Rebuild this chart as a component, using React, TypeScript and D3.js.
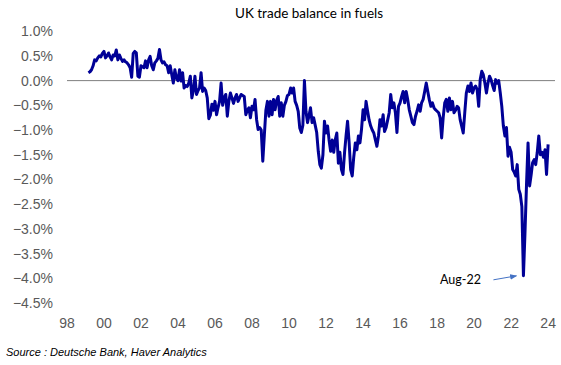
import React from 'react';
import * as d3 from 'd3';

// monthly values (% of GDP), first month Feb 1999, plotted at month end
const firstMonth = new Date(1999, 1, 1);
const fuelBalance = [
  0.16, 0.18, 0.22, 0.30, 0.42, 0.40, 0.46, 0.50, 0.48, 0.55,
  0.59, 0.46, 0.50, 0.56, 0.48, 0.42, 0.52, 0.50, 0.62, 0.42, 0.52, 0.45,
  0.39, 0.42, 0.38, 0.36, 0.32, 0.26, 0.07, 0.55, 0.59, 0.56, 0.09, 0.07,
  0.30, 0.28, 0.26, 0.40, 0.26, 0.42, 0.49, 0.30, 0.22, 0.36, 0.40, 0.45,
  0.63, 0.42, 0.36, 0.38, 0.32, 0.30, 0.16, 0.30, 0.12, -0.05, 0.22, 0.05,
  0.00, 0.22, -0.01, 0.16, -0.15, -0.10, -0.12, -0.05, 0.09, -0.35, -0.20, 0.09,
  -0.28, -0.20, -0.15, 0.16, -0.22, -0.15, -0.20, -0.35, -0.77, -0.70, -0.48, -0.60,
  -0.42, -0.69, -0.55, -0.42, -0.05, -0.50, -0.35, -0.28, -0.72, -0.42, -0.25, -0.35,
  -0.46, -0.35, -0.28, -0.42, -0.35, -0.28, -0.30, -0.32, -0.69, -0.60, -0.55, -0.75,
  -0.52, -0.59, -0.38, -0.79, -0.99, -0.95, -1.00, -1.63, -1.10, -0.60, -0.42, -0.72,
  -0.42, -0.69, -0.38, -0.59, -0.40, -0.32, -0.72, -0.45, -0.72, -0.50, -0.42, -0.30,
  -0.28, -0.15, -0.25, -0.15, -0.42, -0.50, -0.62, -0.96, -1.05, -0.90, 0.00, -0.62,
  -0.85, -0.70, -0.55, -0.85, -0.75, -0.90, -1.05, -1.43, -1.70, -1.77, -1.50, -0.82,
  -1.06, -0.92, -1.20, -1.43, -1.20, -1.45, -1.20, -1.06, -1.67, -1.45, -1.80, -1.90,
  -1.45, -1.10, -0.82, -1.25, -1.80, -1.93, -1.55, -1.26, -1.40, -1.12, -1.26, -0.99,
  -0.59, -0.79, -0.42, -0.62, -0.80, -0.92, -1.00, -1.06, -1.20, -1.33, -1.12, -0.79,
  -0.92, -0.69, -1.03, -0.95, -0.80, -0.65, -0.28, -0.55, -0.45, -0.65, -1.05, -0.52,
  -0.45, -0.32, -0.22, -0.45, -0.22, -0.39, -0.59, -0.72, -0.85, -0.89, -0.72, -0.62,
  -0.49, -0.62, -0.45, -0.38, -0.22, -0.05, -0.22, -0.39, -0.52, -0.45, -0.55, -0.59,
  -0.62, -0.65, -0.75, -1.16, -0.75, -0.45, -0.38, -0.62, -0.35, -0.59, -0.42, -0.65,
  -0.60, -0.52, -0.55, -0.79, -0.92, -1.06, -0.65, -0.25, -0.11, -0.22, -0.05, -0.25,
  -0.15, -0.11, -0.18, -0.52, 0.02, 0.19, 0.12, -0.05, -0.25, -0.05, 0.09, 0.02,
  -0.10, -0.20, 0.02, -0.05, 0.00, -0.25, -0.52, -0.92, -1.12, -0.95, -1.53, -1.35,
  -1.45, -1.80, -1.85, -1.93, -1.70, -2.20, -2.30, -2.55, -3.95, -3.10, -2.10, -1.26,
  -2.13, -1.90, -1.66, -1.60, -1.70, -1.45, -1.12, -1.50, -1.45, -1.55, -1.40, -1.90,
  -1.29,
];

const yTicks = [1.0, 0.5, 0.0, -0.5, -1.0, -1.5, -2.0, -2.5, -3.0, -3.5, -4.0, -4.5];
const xTickYears = [1998, 2000, 2002, 2004, 2006, 2008, 2010, 2012, 2014, 2016, 2018, 2020, 2022, 2024];
const annotation = { month: new Date(2022, 7, 1), label: 'Aug-22' };

const W = 561;
const H = 365;

const monthEnd = (d: Date) => d3.timeDay.offset(d3.timeMonth.offset(d, 1), -1);

const App = () => {
  const data = fuelBalance.map((v, i) => ({
    date: monthEnd(d3.timeMonth.offset(firstMonth, i)),
    value: v,
  }));

  const x = d3.scaleTime()
    .domain([new Date(1998, 0, 1), new Date(2024, 4, 15)])
    .range([67, 555]);
  const y = d3.scaleLinear().domain([-4.5, 1.0]).range([303, 31.2]);

  const line = d3.line<{ date: Date; value: number }>()
    .x(d => x(d.date))
    .y(d => y(d.value));

  const trough = data.find(d => d.date.getFullYear() === 2022 && d.date.getMonth() === annotation.month.getMonth())!;
  const tx = x(trough.date);
  const ty = y(trough.value);

  const tickFont = '"Liberation Sans", Arial, sans-serif';

  return (
    <div style={{ position: 'absolute', left: 0, top: 0 }}>
      <svg width={W} height={H} style={{ display: 'block', background: '#fff' }}>
        <defs>
          <marker id="arrowHead" viewBox="0 0 10 10" refX="9" refY="5" markerWidth="7" markerHeight="7" orient="auto">
            <path d="M0,1 L10,5 L0,9 z" fill="#4472c4" />
          </marker>
        </defs>
        <text x={309} y={18} textAnchor="middle" fontFamily="Lato, sans-serif" fontSize={13.5} fill="#000">
          UK trade balance in fuels
        </text>

        {yTicks.map(t => (
          <text key={t} x={53} y={y(t)} dy="0.36em" textAnchor="end" fontFamily={tickFont} fontSize={14} fill="#595959">
            {d3.format('.1f')(t)}%
          </text>
        ))}

        {xTickYears.map(yr => (
          <text key={yr} x={x(new Date(yr, 0, 1))} y={328} textAnchor="middle" fontFamily={tickFont} fontSize={14} fill="#595959">
            {String(yr % 100).padStart(2, '0')}
          </text>
        ))}

        <line x1={x.range()[0]} x2={x.range()[1]} y1={y(0)} y2={y(0)} stroke="#7f7f7f" strokeWidth={1} />

        <path d={line(data) ?? ''} fill="none" stroke="#000096" strokeWidth={3} strokeLinejoin="round" />

        <text x={tx - 63} y={ty + 8} textAnchor="middle" fontFamily="Lato, sans-serif" fontSize={12.5} fill="#000">
          {annotation.label}
        </text>
        <line x1={tx - 30} y1={ty + 4} x2={tx - 7} y2={ty} stroke="#4472c4" strokeWidth={1} markerEnd="url(#arrowHead)" />

        <text x={6} y={356} fontFamily={tickFont} fontStyle="italic" fontSize={11} fill="#000">
          Source : Deutsche Bank, Haver Analytics
        </text>
      </svg>
    </div>
  );
};

export default App;
